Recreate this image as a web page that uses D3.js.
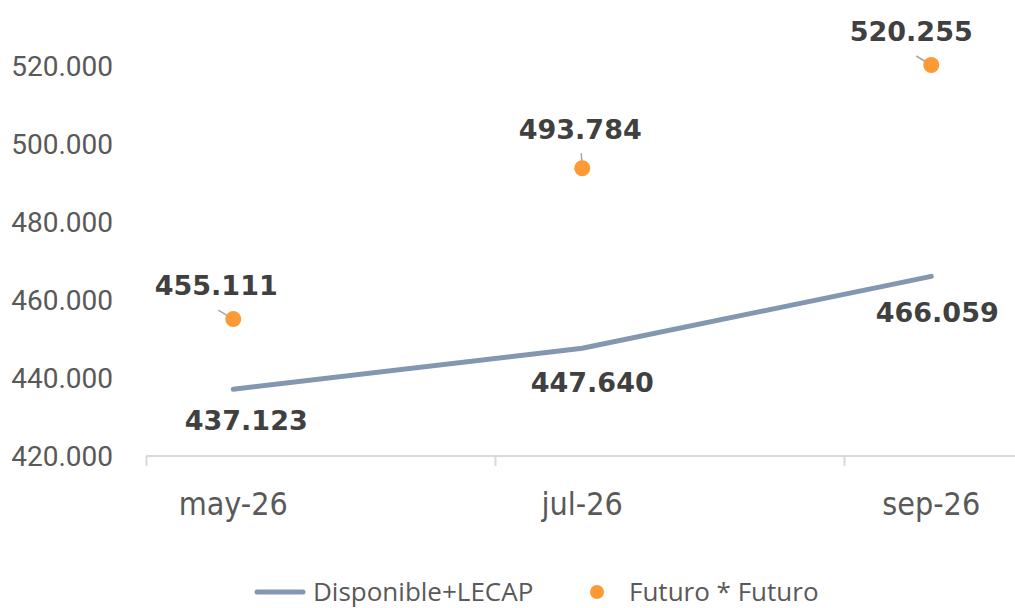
<!DOCTYPE html>
<html>
<head>
<meta charset="utf-8">
<script src="https://cdn.jsdelivr.net/npm/d3@7"></script>
<style>
  body { margin: 0; background: #fff; }
  svg { display: block; }
</style>
</head>
<body>
<div id="chart"></div>
<script>
// data
const categories = ["may-26", "jul-26", "sep-26"];
const monthIndex = [5, 7, 9];
const disponible = [437123, 447640, 466059];
const futuro = [455111, 493784, 520255];
const yTicks = [420000, 440000, 460000, 480000, 500000, 520000];

// label placement (dx, dy from the point)
const lineLabelOff = [[13, 31], [10, 34], [6, 36]];
const dotLabelOff = [[-17, -34], [-2, -39], [-20, -34]];

const W = 1015, H = 608;

const svg = d3.select("#chart").append("svg")
  .attr("width", W)
  .attr("height", H);

const x = d3.scaleLinear().domain([4.5, 9.48]).range([146, 1015]);
const y = d3.scaleLinear().domain([420000, 520000]).range([456, 66]);

const fmt = v => d3.format(",")(v).replace(/,/g, ".");

// y tick labels (no axis line)
svg.append("g").selectAll("text")
  .data(yTicks)
  .enter().append("text")
    .attr("x", 113)
    .attr("y", d => y(d))
    .attr("dy", "0.36em")
    .attr("text-anchor", "end")
    .style("font-family", "Roboto")
    .style("font-size", "28px")
    .style("fill", "#595959")
    .text(d => fmt(d));

// x axis
const xAxis = d3.axisBottom(x)
  .tickValues([4.5, 6.5, 8.5])
  .tickSize(10)
  .tickFormat("");
const gx = svg.append("g")
  .attr("transform", "translate(0," + y(420000) + ")")
  .call(xAxis);
gx.select(".domain").attr("stroke", "#d9d9d9").attr("stroke-width", 2)
  .attr("d", "M" + x(4.5) + ",0H" + W);
gx.selectAll(".tick line").attr("stroke", "#d9d9d9").attr("stroke-width", 2);

svg.append("g").selectAll("text")
  .data(categories)
  .enter().append("text")
    .attr("x", (d, i) => x(monthIndex[i]))
    .attr("y", 515)
    .attr("text-anchor", "middle")
    .style("font-family", "DejaVu Sans Condensed, DejaVu Sans")
    .style("font-stretch", "condensed")
    .style("font-size", "32px")
    .style("fill", "#595959")
    .text(d => d);

// line series
const lineData = disponible.map((v, i) => ({ m: monthIndex[i], v: v }));
svg.append("path")
  .datum(lineData)
  .attr("fill", "none")
  .attr("stroke", "#8497b0")
  .attr("stroke-width", 5)
  .attr("stroke-linecap", "round")
  .attr("d", d3.line().x(d => x(d.m)).y(d => y(d.v)));

svg.append("g").selectAll("text")
  .data(lineData)
  .enter().append("text")
    .attr("x", (d, i) => x(d.m) + lineLabelOff[i][0])
    .attr("y", (d, i) => y(d.v) + lineLabelOff[i][1])
    .attr("dy", "0.36em")
    .attr("text-anchor", "middle")
    .style("font-family", "DejaVu Sans")
    .style("font-weight", "bold")
    .style("font-size", "27px")
    .style("fill", "#404040")
    .text(d => fmt(d.v));

// futuro dots + leader lines + labels
const dotData = futuro.map((v, i) => ({ m: monthIndex[i], v: v }));
const gDots = svg.append("g");
gDots.selectAll("line")
  .data(dotData)
  .enter().append("line")
    .attr("x1", d => x(d.m))
    .attr("y1", d => y(d.v))
    .attr("x2", (d, i) => x(d.m) + (dotLabelOff[i][0] < -5 ? -15 : -1))
    .attr("y2", (d, i) => y(d.v) + (dotLabelOff[i][0] < -5 ? -9 : -15))
    .attr("stroke", "#a6a6a6")
    .attr("stroke-width", 1.5);
gDots.selectAll("circle")
  .data(dotData)
  .enter().append("circle")
    .attr("cx", d => x(d.m))
    .attr("cy", d => y(d.v))
    .attr("r", 8)
    .attr("fill", "#fd9a35");
gDots.selectAll("text")
  .data(dotData)
  .enter().append("text")
    .attr("x", (d, i) => x(d.m) + dotLabelOff[i][0])
    .attr("y", (d, i) => y(d.v) + dotLabelOff[i][1])
    .attr("dy", "0.36em")
    .attr("text-anchor", "middle")
    .style("font-family", "DejaVu Sans")
    .style("font-weight", "bold")
    .style("font-size", "27px")
    .style("fill", "#404040")
    .text(d => fmt(d.v));

// legend
const lg = svg.append("g").attr("transform", "translate(0,592)");
lg.append("line")
  .attr("x1", 257).attr("x2", 303).attr("y1", 0).attr("y2", 0)
  .attr("stroke", "#8497b0").attr("stroke-width", 5).attr("stroke-linecap", "round");
lg.append("text")
  .attr("x", 313).attr("y", 0).attr("dy", "0.36em")
  .style("font-family", "Open Sans").style("font-size", "26px").style("fill", "#595959")
  .text("Disponible+LECAP");
lg.append("circle").attr("cx", 597).attr("cy", 0).attr("r", 7).attr("fill", "#fd9a35");
lg.append("text")
  .attr("x", 629).attr("y", 0).attr("dy", "0.36em")
  .style("font-family", "Open Sans").style("font-size", "26px").style("fill", "#595959")
  .text("Futuro * Futuro");
</script>
</body>
</html>
